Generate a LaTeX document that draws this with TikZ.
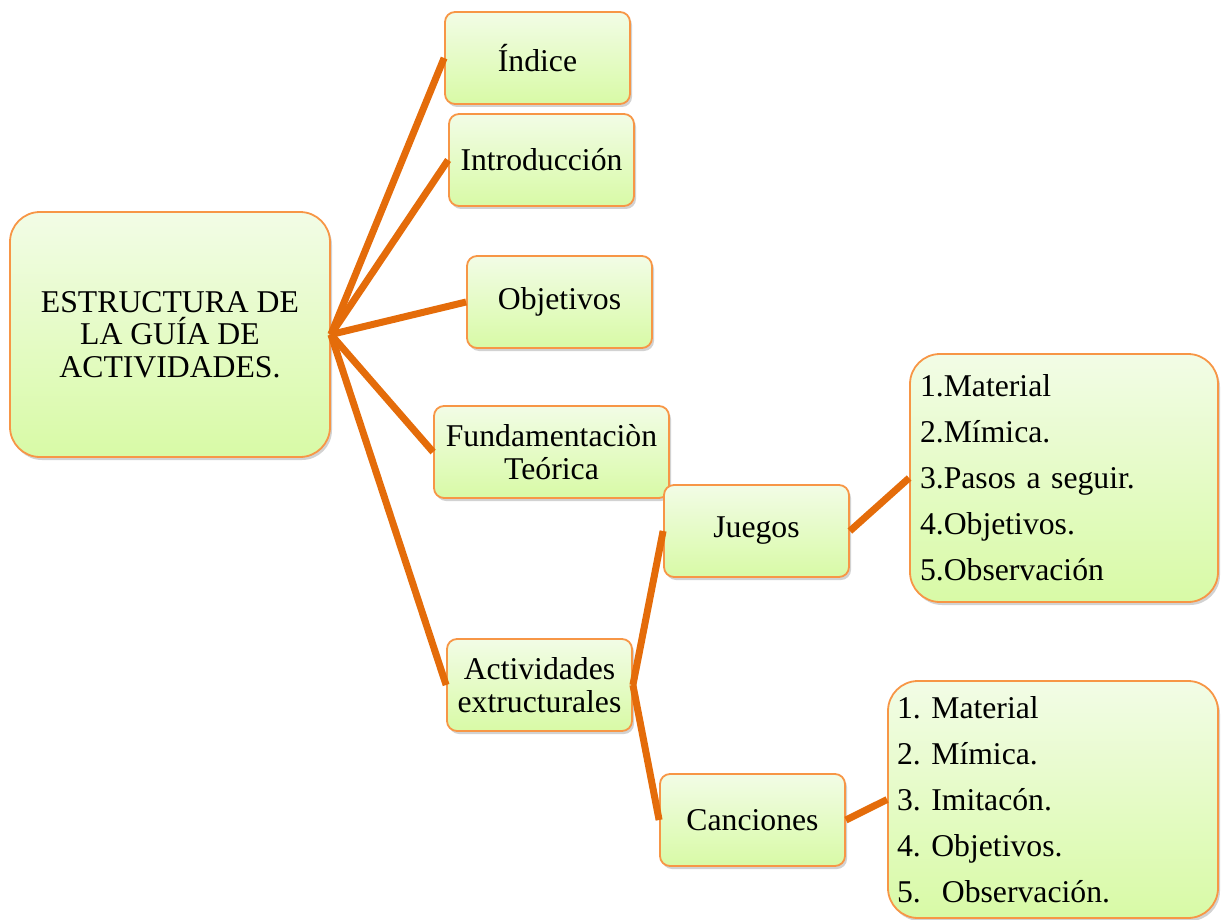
\documentclass[tikz,border=0pt]{standalone}
\usepackage{fontspec}
\setmainfont{Liberation Serif}
\frenchspacing
\usetikzlibrary{shadows}
\definecolor{boxborder}{RGB}{247,150,70}
\definecolor{linkcol}{RGB}{228,108,10}
\definecolor{gtop}{RGB}{242,252,230}
\definecolor{gbot}{RGB}{216,250,166}
\tikzset{
  gbox/.style={draw=boxborder, line width=1.8pt, rounded corners=10pt,
    top color=gtop, bottom color=gbot, align=center, inner sep=2pt,
    font=\fontsize{31.7}{32.5}\selectfont,
    drop shadow={shadow xshift=2pt, shadow yshift=-3pt, opacity=0.25, fill=black!70}},
  bigbox/.style={gbox, rounded corners=30pt},
  listbox/.style={bigbox, align=left, font=\fontsize{31.7}{46}\selectfont\frenchspacing},
  link/.style={draw=linkcol, line width=7pt, line cap=butt, line join=miter}
}
\begin{document}
\begin{tikzpicture}[x=1pt, y=-1pt]
\useasboundingbox (0,0) rectangle (1223,920);
\node[bigbox, minimum width=320pt, minimum height=245pt] (root) at (170,334.5) {ESTRUCTURA DE\\LA GUÍA DE\\ACTIVIDADES.};
\node[gbox, minimum width=185pt, minimum height=92pt] (ind) at (537.5,58) {Índice};
\node[gbox, minimum width=185pt, minimum height=92pt] (intro) at (541.5,160) {Introducción};
\node[gbox, minimum width=185pt, minimum height=92pt] (obj) at (559.5,302) {Objetivos};
\node[gbox, minimum width=235pt, minimum height=92pt] (fund) at (551.5,452) {Fundamentaciòn\\Teórica};
\node[gbox, minimum width=185pt, minimum height=92pt] (act) at (539.5,685) {Actividades\\extructurales};
\node[gbox, minimum width=185pt, minimum height=92pt] (jue) at (756.5,531) {Juegos};
\node[gbox, minimum width=185pt, minimum height=92pt] (can) at (752.5,820) {Canciones};
\node[listbox, text width=288pt, inner xsep=10pt, minimum height=248pt] (l1) at (1064,478)
  {1.Material\\2.Mímica.\\3.Pasos a seguir.\\4.Objetivos.\\5.Observación};
\node[listbox, text width=312pt, inner xsep=9pt, minimum height=237pt] (l2) at (1053,799.5)
  {1. Material\\2. Mímica.\\3. Imitacón.\\4. Objetivos.\\5.\ \ Observación.};
\foreach \c in {ind,intro,obj,fund,act}
  \draw[link] (root.east) -- (\c.west);
\draw[link] (act.east) -- (jue.west);
\draw[link] (act.east) -- (can.west);
\draw[link] (jue.east) -- (l1.west);
\draw[link] (can.east) -- (l2.west);
\end{tikzpicture}
\end{document}
